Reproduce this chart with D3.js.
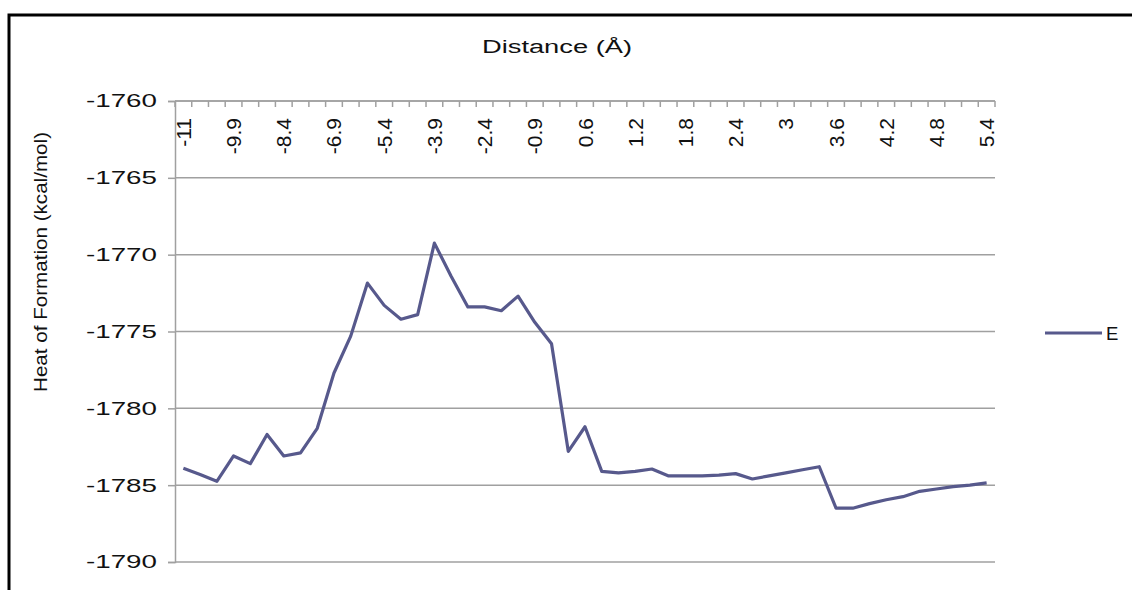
<!DOCTYPE html>
<html>
<head>
<meta charset="utf-8">
<script src="https://cdnjs.cloudflare.com/ajax/libs/d3/7.8.5/d3.min.js"></script>
<style>
  html, body { margin: 0; padding: 0; background: #fff; }
  svg { display: block; }
  text { font-family: "Liberation Sans", Arial, sans-serif; fill: #111; }
</style>
</head>
<body>
<svg id="chart" width="1132" height="590"></svg>
<script>
// ---- data ----
const categories = [
  "-11", "-10.9", "-10.4", "-9.9", "-9.4", "-8.9", "-8.4", "-7.9", "-7.4", "-6.9",
  "-6.4", "-5.9", "-5.4", "-4.9", "-4.4", "-3.9", "-3.4", "-2.9", "-2.4", "-1.9",
  "-1.4", "-0.9", "-0.4", "0.1", "0.6", "0.8", "1", "1.2", "1.4", "1.6",
  "1.8", "2", "2.2", "2.4", "2.6", "2.8", "3", "3.2", "3.4", "3.6",
  "3.8", "4", "4.2", "4.4", "4.6", "4.8", "5", "5.2", "5.4"
];
const seriesE = [
  -1783.9, -1784.3, -1784.75, -1783.1, -1783.6, -1781.7, -1783.1, -1782.9, -1781.3, -1777.7,
  -1775.3, -1771.85, -1773.3, -1774.2, -1773.9, -1769.25, -1771.4, -1773.4, -1773.4, -1773.65,
  -1772.7, -1774.4, -1775.8, -1782.8, -1781.2, -1784.1, -1784.2, -1784.1, -1783.95, -1784.4,
  -1784.4, -1784.4, -1784.35, -1784.25, -1784.6, -1784.4, -1784.2, -1784.0, -1783.8, -1786.5,
  -1786.5, -1786.2, -1785.95, -1785.75, -1785.4, -1785.25, -1785.1, -1785.0, -1784.85
];
const tickLabels = ["-11", "-9.9", "-8.4", "-6.9", "-5.4", "-3.9", "-2.4", "-0.9", "0.6",
  "1.2", "1.8", "2.4", "3", "3.6", "4.2", "4.8", "5.4"];
const yTicks = [-1760, -1765, -1770, -1775, -1780, -1785, -1790];
const seriesName = "E";
const xTitle = "Distance (Å)";
const yTitle = "Heat of Formation  (kcal/mol)";

// ---- layout ----
const svg = d3.select("#chart");
const plot = { left: 175, right: 995, top: 101, bottom: 562 };
const lineColor = "#57598c";
const gridColor = "#a0a0a0";

svg.append("rect").attr("width", 1132).attr("height", 590).attr("fill", "#fff");
// outer frame
svg.append("rect")
  .attr("x", 9).attr("y", 15).attr("width", 1300).attr("height", 800)
  .attr("fill", "none").attr("stroke", "#000").attr("stroke-width", 3);

const x = d3.scaleBand().domain(categories).range([plot.left, plot.right]).paddingInner(0).paddingOuter(0);
const y = d3.scaleLinear().domain([-1790, -1760]).range([plot.bottom, plot.top]);

// gridlines
svg.append("g").selectAll("line").data(yTicks).join("line")
  .attr("x1", plot.left).attr("x2", plot.right)
  .attr("y1", d => y(d)).attr("y2", d => y(d))
  .attr("stroke", gridColor).attr("stroke-width", 1.5);

// y axis
const yAxis = svg.append("g").attr("transform", `translate(${plot.left},0)`)
  .call(d3.axisLeft(y).tickValues(yTicks).tickSize(7).tickPadding(11).tickFormat(d => String(d)));
yAxis.select(".domain").attr("stroke", gridColor).attr("stroke-width", 1.5);
yAxis.selectAll(".tick line").attr("stroke", gridColor).attr("stroke-width", 1.5);
yAxis.selectAll(".tick text")
  .attr("font-size", 18.5).attr("fill", "#111")
  .attr("textLength", 71).attr("lengthAdjust", "spacingAndGlyphs")
  .style("font-family", "'Liberation Sans', Arial, sans-serif");

// x axis (top), ticks between categories pointing inward
const boundaries = categories.map(c => x(c)).concat([plot.right]);
svg.append("g").selectAll("line").data(boundaries).join("line")
  .attr("x1", d => d).attr("x2", d => d)
  .attr("y1", plot.top).attr("y2", plot.top + 6)
  .attr("stroke", gridColor).attr("stroke-width", 1.5);
svg.append("line")
  .attr("x1", plot.left).attr("x2", plot.right).attr("y1", plot.top).attr("y2", plot.top)
  .attr("stroke", gridColor).attr("stroke-width", 1.5);

svg.append("g").selectAll("text").data(tickLabels).join("text")
  .attr("transform", d => `translate(${x(d) + x.bandwidth() / 2 + 7.5},118) rotate(-90)`)
  .attr("text-anchor", "end")
  .attr("font-size", 21)
  .text(d => d);

// line
const line = d3.line().x((d, i) => x(categories[i]) + x.bandwidth() / 2).y(d => y(d));
svg.append("path").datum(seriesE)
  .attr("d", line).attr("fill", "none")
  .attr("stroke", lineColor).attr("stroke-width", 3.2).attr("stroke-linejoin", "round");

// titles
svg.append("text").attr("x", 557).attr("y", 53).attr("text-anchor", "middle")
  .attr("font-size", 18).attr("textLength", 150).attr("lengthAdjust", "spacingAndGlyphs")
  .text(xTitle);
svg.append("text").attr("transform", "translate(47,262) rotate(-90)")
  .attr("text-anchor", "middle").attr("font-size", 18.5)
  .attr("textLength", 260).attr("lengthAdjust", "spacingAndGlyphs")
  .text(yTitle);

// legend
svg.append("line").attr("x1", 1045).attr("x2", 1102).attr("y1", 333).attr("y2", 333)
  .attr("stroke", lineColor).attr("stroke-width", 3.2);
svg.append("text").attr("x", 1106).attr("y", 339.5).attr("font-size", 18.5).text(seriesName);
</script>
</body>
</html>
